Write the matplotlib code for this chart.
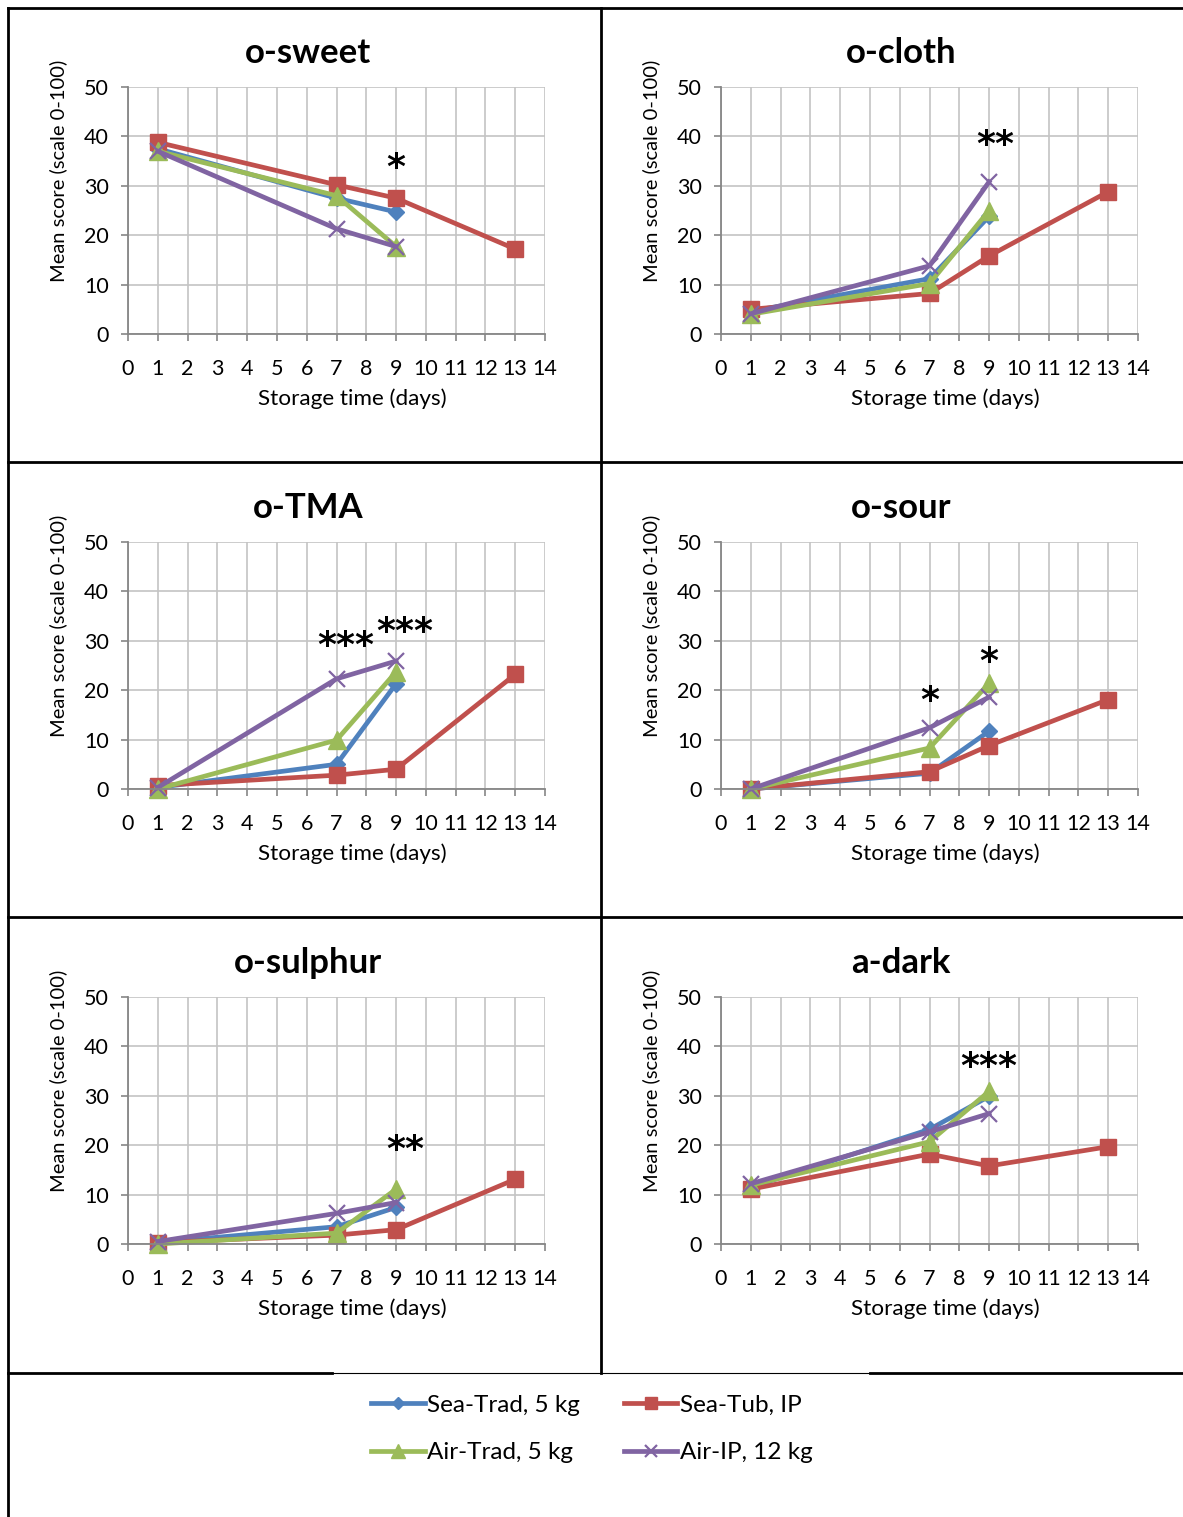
import matplotlib
matplotlib.use("Agg")
import matplotlib.pyplot as plt
from matplotlib.lines import Line2D

plt.rcParams['font.family'] = ['Lato', 'DejaVu Sans']

# storage days for each series
days_short = [1, 7, 9]
days_tub = [1, 7, 9, 13]

series_names = ["Sea-Trad, 5 kg", "Sea-Tub, IP", "Air-Trad, 5 kg", "Air-IP, 12 kg"]

# mean panel scores: Sea-Trad, Sea-Tub, Air-Trad, Air-IP
sweet = {"sea_trad": [37.5, 27.5, 24.7], "sea_tub": [38.8, 30.2, 27.5, 17.2],
         "air_trad": [37.0, 28.0, 17.7], "air_ip": [37.0, 21.3, 17.7]}
cloth = {"sea_trad": [4.6, 11.2, 23.8], "sea_tub": [5.0, 8.2, 15.8, 28.8],
         "air_trad": [4.0, 10.2, 25.0], "air_ip": [4.1, 13.8, 30.8]}
tma = {"sea_trad": [0.3, 5.0, 21.3], "sea_tub": [0.7, 2.8, 4.0, 23.2],
       "air_trad": [0.0, 9.9, 23.7], "air_ip": [0.3, 22.3, 25.9]}
sour = {"sea_trad": [0.0, 3.2, 11.7], "sea_tub": [0.0, 3.5, 8.8, 18.1],
        "air_trad": [0.0, 8.3, 21.4], "air_ip": [0.0, 12.4, 18.6]}
sulphur = {"sea_trad": [0.3, 3.5, 7.4], "sea_tub": [0.3, 1.8, 2.9, 13.1],
           "air_trad": [0.0, 2.2, 11.1], "air_ip": [0.5, 6.2, 8.4]}
dark = {"sea_trad": [11.5, 23.2, 29.9], "sea_tub": [11.1, 18.2, 15.8, 19.7],
        "air_trad": [11.9, 20.7, 30.9], "air_ip": [12.2, 22.7, 26.4]}

titles = ["o-sweet", "o-cloth", "o-TMA", "o-sour", "o-sulphur", "a-dark"]
panels = [sweet, cloth, tma, sour, sulphur, dark]

# significance marks: (day, score, text)
stars = [
    [(9.0, 33.6, "*")],
    [(9.2, 38.3, "**")],
    [(7.3, 29.0, "***"), (9.3, 31.7, "***")],
    [(7.0, 17.8, "*"), (9.0, 25.8, "*")],
    [(9.3, 19.0, "**")],
    [(9.0, 35.9, "***")],
]

styles = {
    "sea_trad": dict(color="#4F81BD", marker="D", ms=8, label=series_names[0]),
    "sea_tub": dict(color="#C0504D", marker="s", ms=12, label=series_names[1]),
    "air_trad": dict(color="#9BBB59", marker="^", ms=13, label=series_names[2]),
    "air_ip": dict(color="#8064A2", marker="x", ms=12, mew=1.6, label=series_names[3]),
}

W, H = 1183, 1517
fig = plt.figure(figsize=(W / 100, H / 100), dpi=100)

lefts = [128, 721]
tops = [87, 542, 997]
aw, ah = 417, 247

handles = {}
for i, (data, title) in enumerate(zip(panels, titles)):
    col, row = i % 2, i // 2
    x0 = lefts[col] / W
    y0 = 1 - (tops[row] + ah) / H
    ax = fig.add_axes([x0, y0, aw / W, ah / H])

    for key in ["sea_trad", "sea_tub", "air_trad", "air_ip"]:
        xs = days_tub if key == "sea_tub" else days_short
        st = dict(styles[key])
        ms = st.pop("ms")
        mew = st.pop("mew", 1.0)
        h, = ax.plot(xs, data[key], lw=3.4, ms=ms, mew=mew, clip_on=False, **st)
        handles[key] = h

    ax.set_xlim(0, 14)
    ax.set_ylim(0, 50)
    ax.set_xticks(range(0, 15))
    ax.set_yticks(range(0, 51, 10))
    ax.grid(True, color="#C4C4C4", lw=1.2)
    ax.set_axisbelow(True)
    for s in ["top", "right"]:
        ax.spines[s].set_visible(False)
    for s in ["left", "bottom"]:
        ax.spines[s].set_color("#868686")
        ax.spines[s].set_linewidth(1.3)
    ax.tick_params(axis="both", colors="#868686", labelcolor="black",
                   labelsize=15.5, length=5, width=1.2)
    ax.tick_params(axis="x", pad=13)
    ax.tick_params(axis="y", pad=9)

    ax.text(0.432, 1.138, title, transform=ax.transAxes, ha="center",
            va="center", fontsize=25, fontweight="bold")
    ax.text(-0.168, 0.66, "Mean score (scale 0-100)", transform=ax.transAxes,
            rotation=90, ha="center", va="center", fontsize=14.5)
    ax.text(0.537, -0.263, "Storage time (days)", transform=ax.transAxes,
            ha="center", va="center", fontsize=16.2)

    for d, v, s in stars[i]:
        ax.text(d, v, s, ha="center", va="center", fontsize=26,
                fontweight="bold", family="DejaVu Sans")

# table frame around the panels
def hline(y, x_a, x_b, lw=2.0):
    fig.add_artist(Line2D([x_a / W, x_b / W], [1 - y / H, 1 - y / H],
                          color="black", lw=lw))

def vline(x, y_a, y_b, lw=2.0):
    fig.add_artist(Line2D([x / W, x / W], [1 - y_a / H, 1 - y_b / H],
                          color="black", lw=lw))

hline(8, 8, W)
hline(462, 8, W)
hline(917, 8, W)
hline(1373, 8, 332)
hline(1373, 332, 870, lw=0.8)
hline(1373, 870, W)
vline(8, 8, H)
vline(601, 8, 1373)

order = ["sea_trad", "air_trad", "sea_tub", "air_ip"]
fig.legend([handles[k] for k in order], [handles[k].get_label() for k in order],
           ncol=2, loc="center", bbox_to_anchor=(592 / W, 1 - 1429 / H),
           frameon=False, fontsize=17.5, handlelength=2.2, handletextpad=0.1,
           columnspacing=1.8, labelspacing=1.1, markerscale=0.75)

fig.savefig("out.png", dpi=100)
